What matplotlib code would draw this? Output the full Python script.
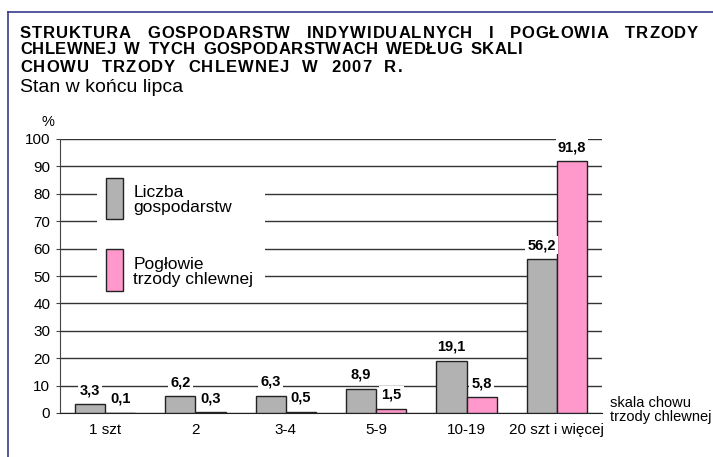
import numpy as np
import matplotlib.pyplot as plt
from matplotlib.patches import Rectangle
from matplotlib.lines import Line2D

categories = ['1 szt', '2', '3-4', '5-9', '10-19', '20 szt i więcej']
gospodarstwa = [3.3, 6.2, 6.3, 8.9, 19.1, 56.2]
poglowie = [0.1, 0.3, 0.5, 1.5, 5.8, 91.8]
series_names = ['Liczba\ngospodarstw', 'Pogłowie\ntrzody chlewnej']
title_lines = ['STRUKTURA GOSPODARSTW INDYWIDUALNYCH I POGŁOWIA TRZODY',
               'CHLEWNEJ W TYCH GOSPODARSTWACH WEDŁUG SKALI',
               'CHOWU TRZODY CHLEWNEJ W 2007 R.']

plt.rcParams['font.family'] = ['Liberation Sans', 'DejaVu Sans']

W, H = 713, 457
fig = plt.figure(figsize=(W / 100, H / 100), dpi=100)
ax = fig.add_axes([60 / W, 1 - 413 / H, 542 / W, 274 / H])

gray = '#b2b2b2'
pink = '#ff99cc'
x = np.arange(len(categories))
bw = 0.335
b1 = ax.bar(x - bw / 2, gospodarstwa, bw, color=gray, edgecolor='#222222', linewidth=1, zorder=3)
b2 = ax.bar(x + bw / 2, poglowie, bw, color=pink, edgecolor='#222222', linewidth=1, zorder=3)

for bars, vals in [(b1, gospodarstwa), (b2, poglowie)]:
    for r, v in zip(bars, vals):
        ax.annotate(f'{v:.1f}'.replace('.', ','), (r.get_x() + r.get_width() / 2, v),
                    xytext=(0, 5), textcoords='offset points', ha='center', va='bottom',
                    fontsize=10.5, fontweight='bold', zorder=4,
                    bbox=dict(boxstyle='square,pad=0.15', fc='white', ec='none'))

ax.set_xlim(-0.5, len(categories) - 0.5)
ax.set_ylim(0, 100)
ax.set_yticks(range(0, 101, 10))
ax.set_xticks(x)
ax.set_xticklabels(categories, fontsize=11)
ax.tick_params(axis='x', length=0, pad=7)
ax.tick_params(axis='y', length=3, width=0.8, labelsize=11, pad=4, color='#444444')
ax.yaxis.grid(True, color='#333333', linewidth=1, zorder=0)
for s in ['top', 'right']:
    ax.spines[s].set_visible(False)
ax.spines['left'].set_color('#444444')
ax.spines['bottom'].set_color('#222222')
ax.set_axisbelow(True)

# legend drawn inside the plot area
ax.add_patch(Rectangle((0.068, 0.423), 0.31, 0.464, transform=ax.transAxes,
                       fc='white', ec='none', zorder=2))
ax.add_patch(Rectangle((0.085, 0.708), 0.031, 0.151, transform=ax.transAxes,
                       fc=gray, ec='#222222', lw=1, zorder=3))
ax.add_patch(Rectangle((0.085, 0.445), 0.031, 0.154, transform=ax.transAxes,
                       fc=pink, ec='#222222', lw=1, zorder=3))
ax.text(0.135, 0.777, series_names[0], transform=ax.transAxes, fontsize=12.5,
        va='center', ha='left', linespacing=1.0, zorder=4)
ax.text(0.135, 0.513, series_names[1], transform=ax.transAxes, fontsize=12.5,
        va='center', ha='left', linespacing=1.0, zorder=4)

fig.text(42 / W, 1 - 122 / H, '%', fontsize=10.5, va='center', ha='left')
fig.text(610 / W, 1 - 410 / H, 'skala chowu\ntrzody chlewnej', fontsize=10.5,
         va='center', ha='left', linespacing=1.0)

# title with letter spacing, stretched to the line widths of the original
targets = [678, 502, 382]
renderer = fig.canvas.get_renderer()
tsize = 12


def text_width(s):
    t = fig.text(0, 0, s, fontsize=tsize, fontweight='bold')
    w = t.get_window_extent(renderer).width
    t.remove()
    return w


space_w = text_width('X X') - text_width('XX')
for i, line in enumerate(title_lines):
    y = 1 - (33 + 17 * i) / H
    chars = list(line)
    texts, widths = [], []
    for c in chars:
        if c == ' ':
            texts.append(None)
            widths.append(space_w)
        else:
            t = fig.text(0, y, c, fontsize=tsize, fontweight='bold', va='center', ha='left')
            texts.append(t)
            widths.append(t.get_window_extent(renderer).width)
    n_words = len(line.split())
    # extra room: part goes to letter spacing, part to word gaps
    extra = targets[i] - sum(widths)
    track = 0.5 * extra / (len(chars) - 1)
    wgap = 0.5 * extra / (n_words - 1)
    pos = 20
    for t, w, c in zip(texts, widths, chars):
        if t is not None:
            t.set_x(pos / W)
        pos += w + track + (wgap if c == ' ' else 0)
fig.text(20 / W, 1 - 88 / H, 'Stan w końcu lipca', fontsize=14, va='center', ha='left')

# outer frame (top and left edges)
frame = '#3a3a8c'
fig.add_artist(Line2D([8 / W, 1], [1 - 12 / H, 1 - 12 / H], color=frame, lw=1.2))
fig.add_artist(Line2D([8 / W, 8 / W], [0, 1 - 12 / H], color=frame, lw=1.2))

fig.savefig('out.png', dpi=100)
